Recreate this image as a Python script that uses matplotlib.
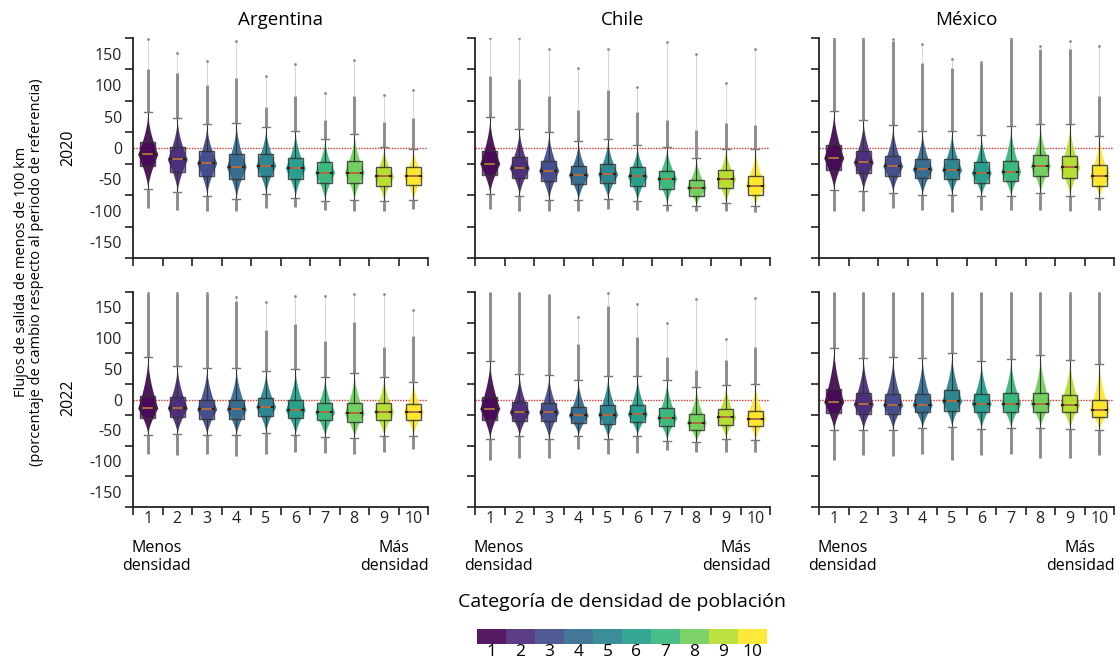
import numpy as np
import matplotlib.pyplot as plt
from matplotlib.patches import Rectangle

plt.rcParams['font.family'] = ['Open Sans', 'DejaVu Sans']

categories = [1, 2, 3, 4, 5, 6, 7, 8, 9, 10]
countries = ['Argentina', 'Chile', 'México']
years = ['2020', '2022']

# Argentina 2020
arg20_q1 = [-29, -38, -44, -49, -45, -50, -56, -56, -60, -59]
arg20_med = [-10, -18, -24, -30, -28, -32, -39, -39, -45, -44]
arg20_q3 = [9, 1, -5, -10, -10, -16, -22, -21, -30, -30]
arg20_wlo = [-65, -70, -76, -81, -73, -79, -84, -83, -85, -83]
arg20_whi = [57, 47, 38, 40, 33, 27, 14, 23, 1, -1]
arg20_omin = [-95, -99, -100, -101, -96, -94, -99, -100, -101, -97]
arg20_odense = [125, 120, 101, 112, 66, 83, 45, 83, 42, 47]
arg20_omax = [174, 151, 139, 171, 115, 134, 88, 140, 85, 92]

# Chile 2020
chl20_q1 = [-43, -48, -53, -57, -56, -60, -65, -76, -64, -74]
chl20_med = [-25, -32, -36, -43, -42, -45, -49, -63, -49, -60]
chl20_q3 = [-5, -14, -20, -29, -26, -30, -36, -51, -35, -44]
chl20_wlo = [-73, -76, -83, -83, -81, -85, -90, -92, -88, -92]
chl20_whi = [49, 31, 25, 11, 15, 4, 2, -16, -1, -1]
chl20_omin = [-97, -101, -101, -100, -97, -98, -100, -100, -100, -102]
chl20_odense = [115, 109, 83, 61, 93, 58, 45, 29, 40, 37]
chl20_omax = [175, 175, 157, 127, 157, 97, 169, 150, 104, 158]

# México 2020
mex20_q1 = [-35, -40, -45, -48, -50, -55, -52, -44, -48, -60]
mex20_med = [-16, -23, -29, -34, -35, -40, -38, -29, -31, -45]
mex20_q3 = [4, -4, -12, -17, -17, -23, -20, -11, -13, -27]
mex20_wlo = [-67, -69, -71, -75, -75, -77, -77, -72, -77, -80]
mex20_whi = [59, 44, 36, 27, 27, 21, 35, 38, 38, 19]
mex20_omin = [-101, -100, -95, -99, -102, -98, -99, -99, -100, -99]
mex20_odense = [174, 174, 171, 136, 128, 136, 174, 158, 158, 83]
mex20_omax = [175, 175, 174, 166, 142, 137, 175, 162, 170, 162]

# Argentina 2022
arg22_q1 = [-30, -29, -31, -31, -27, -30, -34, -36, -33, -34]
arg22_med = [-14, -14, -16, -16, -12, -17, -21, -22, -20, -21]
arg22_q3 = [5, 4, 0, 0, 2, -1, -5, -5, -5, -8]
arg22_wlo = [-57, -56, -58, -58, -54, -58, -61, -63, -60, -59]
arg22_whi = [69, 55, 52, 52, 47, 49, 37, 43, 37, 29]
arg22_omin = [-88, -90, -89, -92, -89, -86, -87, -88, -85, -81]
arg22_odense = [172, 172, 172, 161, 113, 123, 96, 126, 85, 104]
arg22_omax = [173, 173, 173, 167, 158, 169, 168, 172, 172, 145]

# Chile 2022
chl22_q1 = [-34, -35, -35, -38, -40, -37, -43, -49, -41, -43]
chl22_med = [-15, -21, -21, -26, -25, -24, -30, -38, -29, -31]
chl22_q3 = [4, -4, -6, -12, -9, -9, -14, -24, -16, -18]
chl22_wlo = [-65, -60, -65, -59, -64, -59, -67, -69, -64, -66]
chl22_whi = [63, 42, 40, 31, 39, 38, 32, 20, 23, 25]
chl22_omin = [-99, -95, -95, -80, -88, -87, -83, -85, -85, -85]
chl22_odense = [173, 173, 170, 91, 152, 102, 70, 48, 64, 86]
chl22_omax = [173, 173, 170, 134, 173, 155, 124, 163, 98, 165]

# México 2022
mex22_q1 = [-22, -24, -24, -21, -18, -21, -21, -20, -20, -28]
mex22_med = [-4, -8, -9, -9, -3, -7, -7, -7, -9, -17]
mex22_q3 = [17, 11, 9, 9, 15, 9, 10, 11, 8, -1]
mex22_wlo = [-50, -50, -50, -47, -45, -48, -47, -46, -48, -50]
mex22_whi = [84, 68, 69, 68, 75, 62, 66, 72, 64, 57]
mex22_omin = [-99, -90, -92, -88, -98, -90, -88, -95, -95, -90]
mex22_odense = [173, 173, 173, 173, 173, 173, 173, 173, 172, 173]
mex22_omax = [174, 174, 174, 174, 174, 174, 174, 174, 174, 174]

panels = [
    [(arg20_q1, arg20_med, arg20_q3, arg20_wlo, arg20_whi, arg20_omin, arg20_odense, arg20_omax),
     (chl20_q1, chl20_med, chl20_q3, chl20_wlo, chl20_whi, chl20_omin, chl20_odense, chl20_omax),
     (mex20_q1, mex20_med, mex20_q3, mex20_wlo, mex20_whi, mex20_omin, mex20_odense, mex20_omax)],
    [(arg22_q1, arg22_med, arg22_q3, arg22_wlo, arg22_whi, arg22_omin, arg22_odense, arg22_omax),
     (chl22_q1, chl22_med, chl22_q3, chl22_wlo, chl22_whi, chl22_omin, chl22_odense, chl22_omax),
     (mex22_q1, mex22_med, mex22_q3, mex22_wlo, mex22_whi, mex22_omin, mex22_odense, mex22_omax)],
]

colors = plt.cm.viridis(np.linspace(0, 1, 10))
W, H = 1120, 662
col_left = [133, 475, 819]
col_w = 295
row_top = [38, 292]
row_h = [220, 215]


def draw_violin(ax, x, lo, med, hi, color, half=0.34):
    yu = np.linspace(med, hi, 50)
    wu = half * (1 - (yu - med) / (hi - med)) ** 1.7
    yd = np.linspace(lo, med, 50)
    wd = half * (1 - (med - yd) / (med - lo)) ** 1.5
    ys = np.concatenate([yd, yu[1:]])
    ws = np.concatenate([wd, wu[1:]])
    ax.fill_betweenx(ys, x - ws, x + ws, color=color, alpha=0.92, lw=0, zorder=3)


fig = plt.figure(figsize=(W / 100, H / 100), dpi=100)

for r in range(2):
    for c in range(3):
        ax = fig.add_axes([col_left[c] / W, 1 - (row_top[r] + row_h[r]) / H,
                           col_w / W, row_h[r] / H])
        q1, med, q3, wlo, whi, omin, odense, omax = panels[r][c]
        for i, x in enumerate(categories):
            col = colors[i]
            # outliers
            ax.plot([x, x], [omin[i], wlo[i]], color='#8c8c8c', lw=2.1, solid_capstyle='butt', zorder=2)
            ax.plot([x, x], [whi[i], odense[i]], color='#8c8c8c', lw=2.1, solid_capstyle='butt', zorder=2)
            ax.plot([x, x], [odense[i], omax[i]], color='#c8c8c8', lw=0.5, zorder=2)
            ax.plot([x], [omax[i]], marker='o', ms=2, color='#8a8a8a', mec='none', zorder=2)
            # box fill, violin, box edge
            ax.add_patch(Rectangle((x - 0.25, q1[i]), 0.5, q3[i] - q1[i], facecolor=col,
                                   alpha=0.55, lw=0, zorder=2.5))
            draw_violin(ax, x, wlo[i], med[i], whi[i], col)
            ax.add_patch(Rectangle((x - 0.25, q1[i]), 0.5, q3[i] - q1[i], facecolor='none',
                                   edgecolor='#333333', lw=1.0, alpha=0.85, zorder=4))
            # whiskers and caps
            ax.plot([x, x], [q3[i], whi[i]], color='#333333', lw=0.8, zorder=4)
            ax.plot([x, x], [wlo[i], q1[i]], color='#333333', lw=0.8, zorder=4)
            ax.plot([x - 0.14, x + 0.14], [whi[i], whi[i]], color='#777777', lw=1.0, zorder=4)
            ax.plot([x - 0.14, x + 0.14], [wlo[i], wlo[i]], color='#777777', lw=1.0, zorder=4)
            # median
            ax.plot([x - 0.25, x + 0.25], [med[i], med[i]], color='#222222', lw=1.4, zorder=5)
            ax.plot([x - 0.15, x + 0.15], [med[i], med[i]], color='#d9824b', lw=1.1, zorder=6)

        ax.axhline(0, color='#e03030', ls=(0, (1, 1)), lw=1.0, zorder=1)
        ax.set_xlim(0.5, 10.5)
        ax.set_ylim(-175, 175)
        for s in ['top', 'right']:
            ax.spines[s].set_visible(False)
        for s in ['left', 'bottom']:
            ax.spines[s].set_linewidth(1.3)
            ax.spines[s].set_color('#222222')

        ax.set_xticks(np.arange(0.5, 11, 1))
        ax.set_xticklabels([])
        ax.set_xticks(categories, minor=True)
        ax.set_yticks(np.arange(-175, 176, 50))
        ax.set_yticklabels([])
        ax.set_yticks(np.arange(-150, 151, 50), minor=True)
        ax.tick_params(which='major', length=6, width=1.2, color='#222222')
        ax.tick_params(which='minor', length=0, labelsize=11.5, colors='#222222')
        ax.tick_params(axis='x', which='minor', pad=3)
        ax.tick_params(axis='y', which='minor', pad=8)

        if r == 1:
            ax.set_xticklabels([str(k) for k in categories], minor=True)
            ax.annotate('Menos\ndensidad', xy=(1.3, 0), xycoords=('data', 'axes fraction'),
                        xytext=(0, -24), textcoords='offset points', ha='center', va='top',
                        fontsize=11.5, linespacing=1.15)
            ax.annotate('Más\ndensidad', xy=(9.35, 0), xycoords=('data', 'axes fraction'),
                        xytext=(0, -24), textcoords='offset points', ha='center', va='top',
                        fontsize=11.5, linespacing=1.15)
        else:
            ax.set_xticklabels([], minor=True)
        if c == 0:
            ax.set_yticklabels([str(v) for v in range(-150, 151, 50)], minor=True)
        else:
            ax.set_yticklabels([], minor=True)

for c, name in enumerate(countries):
    fig.text((col_left[c] + col_w / 2) / W, 1 - 20 / H, name, ha='center', va='center', fontsize=13.5)

fig.text(68 / W, 1 - 148 / H, years[0], rotation=90, ha='center', va='center', fontsize=11.5)
fig.text(68 / W, 1 - 398 / H, years[1], rotation=90, ha='center', va='center', fontsize=11.5)
fig.text(29 / W, 1 - 272 / H,
         'Flujos de salida de menos de 100 km\n(porcentaje de cambio respecto al periodo de referencia)',
         rotation=90, ha='center', va='center', fontsize=10.5, linespacing=1.05)

# legend colour bar
fig.text(622 / W, 1 - 602 / H, 'Categoría de densidad de población', ha='center', va='center', fontsize=14)
cax = fig.add_axes([477 / W, 1 - 644 / H, 290 / W, 15 / H])
cax.bar(np.arange(10) + 0.5, np.ones(10), width=1.0, color=colors, alpha=0.9, lw=0)
cax.set_xlim(0, 10)
cax.set_ylim(0, 1)
cax.set_yticks([])
cax.set_xticks(np.arange(10) + 0.5)
cax.set_xticklabels([str(k) for k in categories], fontsize=12.5)
cax.tick_params(length=0, pad=0)
for s in cax.spines.values():
    s.set_visible(False)

fig.savefig('out.png', dpi=100)
